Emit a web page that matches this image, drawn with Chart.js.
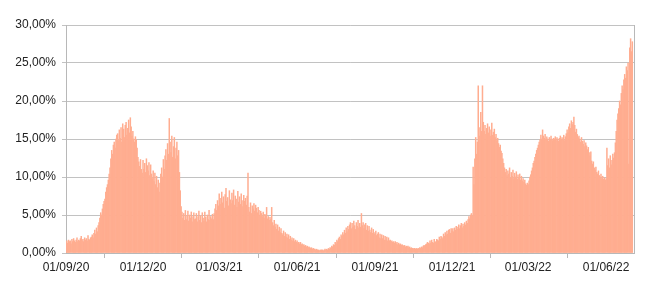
<!DOCTYPE html>
<html>
<head>
<meta charset="utf-8">
<script src="https://cdn.jsdelivr.net/npm/chart.js@4/dist/chart.umd.min.js"></script>
<style>
html,body{margin:0;padding:0;background:#fff;}
#wrap{width:650px;height:287px;position:relative;}
</style>
</head>
<body>
<div id="wrap"><canvas id="c" width="650" height="287"></canvas></div>
<script>
// Daily values (%) per month, starting 01/09/2020
const sep20 = [1.4,1.6,1.3,1.7,1.5,1.6,1.2,1.8,1.5,1.9,1.6,1.4,1.7,2.0,1.5,1.7,1.6,1.9,2.2,1.6,1.8,1.5,2.0,1.7,1.9,1.6,2.3,1.8,1.7,2.0];
const oct20 = [2.1,2.4,2.0,2.6,3.0,2.5,3.3,2.8,3.6,4.0,4.6,5.3,5.0,5.8,6.4,6.8,7.1,8.0,8.6,9.0,9.6,10.4,11.2,12.4,13.5,13.0,14.2,14.6,13.8,15.0,15.5];
const nov20 = [15.7,14.8,16.2,15.1,16.5,14.6,17.0,16.3,15.2,16.8,17.2,15.5,16.4,17.5,15.8,17.8,16.6,15.4,16.0,15.0,14.6,15.3,14.9,13.8,12.6,12.0,11.4,12.3,11.0,10.5];
const dec20 = [12.2,11.0,11.8,10.6,12.4,11.5,10.8,11.9,10.2,11.6,10.4,9.8,10.8,9.4,10.5,9.0,10.1,8.6,9.6,8.0,9.2,10.4,11.2,10.0,12.3,11.0,12.8,13.6,12.2,14.4,13.0];
const jan21 = [17.7,14.6,13.2,15.4,12.6,14.0,15.2,12.4,13.8,14.6,12.8,13.5,10.6,8.2,6.1,5.4,4.6,5.2,4.3,5.6,4.4,4.9,5.5,4.2,5.0,4.6,5.4,4.1,4.8,5.3,4.4];
const feb21 = [4.5,5.2,4.1,4.8,5.5,4.3,4.9,4.0,5.3,4.6,4.2,5.4,4.7,4.1,5.0,4.4,5.6,4.3,4.8,4.5,5.1,4.4,5.2,5.8,6.4,5.6,6.9,6.2];
const mar21 = [7.8,6.4,7.2,8.0,6.6,7.4,5.9,7.7,8.5,6.8,7.3,6.2,8.2,7.0,6.5,7.9,6.9,8.3,6.3,7.5,7.1,6.0,8.1,6.7,7.4,6.4,7.8,6.9,6.1,7.6,6.8];
const apr21 = [7.2,6.3,7.5,10.5,6.0,5.4,6.6,5.2,6.2,5.8,6.5,5.5,6.3,5.9,5.3,6.0,5.6,5.0,5.5,5.2,4.8,5.4,4.6,5.1,4.9,6.0,4.5,4.8,4.3,4.7];
const may21 = [4.4,6.0,4.0,3.6,4.3,3.4,3.8,3.1,3.7,2.9,3.4,2.7,3.2,2.6,2.4,2.9,2.2,2.7,2.1,2.5,2.0,2.4,1.8,2.2,1.7,2.0,1.6,1.9,1.5,1.7,1.4];
const jun21 = [1.6,1.3,1.4,1.2,1.4,1.1,1.2,1.0,1.1,0.9,1.0,0.8,0.9,0.7,0.8,0.7,0.6,0.7,0.5,0.6,0.5,0.5,0.4,0.5,0.4,0.4,0.3,0.4,0.4,0.4];
const jul21 = [0.4,0.3,0.4,0.5,0.4,0.5,0.4,0.6,0.5,0.7,0.6,0.9,0.8,1.1,1.0,1.4,1.2,1.7,1.5,1.9,2.1,1.8,2.4,2.2,2.7,2.4,3.0,2.6,3.3,2.8,3.5];
const aug21 = [3.1,3.7,4.0,3.2,3.9,3.4,4.2,3.6,3.1,4.0,3.5,4.3,3.3,3.9,3.4,5.2,3.6,4.0,3.2,3.7,3.9,3.0,3.6,2.9,3.5,3.0,2.7,3.3,2.6,3.1,2.5];
const sep21 = [2.7,2.9,2.3,2.5,2.7,2.0,2.5,1.9,2.4,1.9,2.3,1.7,2.2,1.7,2.1,1.6,2.0,1.6,1.7,1.5,1.6,1.4,1.5,1.3,1.5,1.2,1.4,1.1,1.3,1.1];
const oct21 = [1.2,1.0,1.1,1.0,0.9,1.0,0.8,0.9,0.8,0.9,0.7,0.8,0.6,0.7,0.6,0.6,0.5,0.6,0.5,0.6,0.5,0.6,0.5,0.7,0.6,0.8,0.7,0.9,1.0,0.9,1.1];
const nov21 = [1.2,1.4,1.3,1.2,1.6,1.3,1.7,1.4,1.3,1.8,1.5,1.4,1.8,1.7,1.6,2.1,1.8,2.2,2.1,1.9,2.5,2.2,2.7,2.4,2.9,2.5,3.0,3.1,2.6,3.2];
const dec21 = [2.9,3.2,2.8,3.3,3.0,3.5,3.1,3.4,3.7,3.2,3.6,3.9,3.3,3.8,3.5,4.0,3.7,4.2,3.9,4.4,4.8,4.5,5.0,5.2,4.9,11.3,9.0,12.4,15.2,13.0,14.6];
const jan22 = [22.0,15.4,16.5,18.5,16.0,22.0,17.2,16.0,16.8,15.6,16.4,17.0,15.8,16.6,15.4,16.2,17.1,15.5,15.9,16.3,15.2,15.6,14.8,15.1,14.4,13.9,14.2,13.4,13.1,12.4,11.8];
const feb22 = [11.2,10.6,11.0,10.2,10.8,10.4,11.2,9.9,10.6,10.1,10.9,9.8,10.5,10.0,10.7,9.7,10.3,9.9,10.4,9.6,10.1,9.5,9.8,9.3,9.6,9.1,8.9,9.2];
const mar22 = [9.0,9.5,10.0,10.3,10.8,11.2,11.8,12.1,12.6,13.0,13.5,13.8,14.2,14.6,14.9,15.5,15.0,16.2,15.4,15.1,15.6,14.9,15.3,15.0,14.7,15.2,14.9,15.4,15.0,14.8,15.1];
const apr22 = [15.0,15.3,14.8,15.2,15.0,14.7,15.1,15.4,14.9,15.2,15.0,15.5,14.8,15.3,15.7,16.2,15.8,16.6,17.0,16.4,17.4,16.9,17.2,17.9,16.8,15.9,16.3,15.6,15.2,15.4];
const may22 = [15.0,14.6,15.2,14.7,14.3,14.8,14.0,14.5,14.1,13.6,13.9,13.2,12.8,13.3,12.1,11.7,12.0,11.2,10.9,11.3,10.6,10.4,10.8,10.2,10.0,10.4,9.8,10.1,9.7,9.9,9.6];
const jun22 = [9.8,13.8,11.5,12.4,11.2,12.8,11.6,12.2,13.0,12.5,13.2,14.5,16.0,17.5,18.3,19.0,20.0,19.5,21.0,22.0,21.5,22.8,23.5,23.0,24.5,24.0,25.0,11.7,27.0,28.2];
const jul22 = [26.5,27.8];

// Tick labels on the x axis (day index from 01/09/2020 -> label)
const xTickDays = [0, 91, 181, 273, 365, 456, 546, 638];
const xTickLabels = ['01/09/20','01/12/20','01/03/21','01/06/21','01/09/21','01/12/21','01/03/22','01/06/22'];
const yTicks = [0, 5, 10, 15, 20, 25, 30];

const values = [].concat(sep20,oct20,nov20,dec20,jan21,feb21,mar21,apr21,may21,jun21,jul21,aug21,
  sep21,oct21,nov21,dec21,jan22,feb22,mar22,apr22,may22,jun22,jul22);
const points = values.map((v,i)=>({x:i,y:v}));

const gridCol = 'rgba(120,120,120,0.45)';
const frame = {
  id:'frame',
  afterDraw(chart){
    const a = chart.chartArea, ctx = chart.ctx;
    ctx.save();
    ctx.strokeStyle = '#b8b8b8';
    ctx.lineWidth = 1;
    ctx.beginPath();
    ctx.moveTo(Math.round(a.right)+0.5, a.top);
    ctx.lineTo(Math.round(a.right)+0.5, a.bottom);
    ctx.stroke();
    ctx.restore();
  }
};

new Chart(document.getElementById('c'), {
  type:'bar',
  data:{datasets:[{data:points, backgroundColor:'#FFAD90', borderWidth:0,
    barPercentage:1.0, categoryPercentage:1.0}]},
  options:{
    responsive:false, animation:false,
    layout:{padding:{top:25,right:16,left:0,bottom:0}},
    plugins:{legend:{display:false}, tooltip:{enabled:false}},
    scales:{
      x:{type:'linear', min:0, max:671, offset:false, z:1,
        afterBuildTicks(s){ s.ticks = xTickDays.map(v=>({value:v})); },
        afterFit(s){ s.height = 34; },
        ticks:{autoSkip:false, maxRotation:0, padding:2, color:'#222',
          font:{family:'Liberation Sans, Arial, sans-serif', size:12},
          callback(v){ const i = xTickDays.indexOf(v); return i>=0 ? xTickLabels[i] : ''; }},
        grid:{drawOnChartArea:false, drawTicks:true, tickLength:5, color:'#b8b8b8'},
        border:{display:true, color:'#b8b8b8'}
      },
      y:{min:0, max:30, z:1,
        afterBuildTicks(s){ s.ticks = yTicks.map(v=>({value:v})); },
        afterFit(s){ s.width = 66; },
        ticks:{padding:6, color:'#222',
          font:{family:'Liberation Sans, Arial, sans-serif', size:12},
          callback(v){ return v.toFixed(2).replace('.',',')+'%'; }},
        grid:{color:gridCol, tickLength:4, drawTicks:true},
        border:{display:true, color:'#b8b8b8'}
      }
    }
  },
  plugins:[frame]
});
</script>
</body>
</html>
